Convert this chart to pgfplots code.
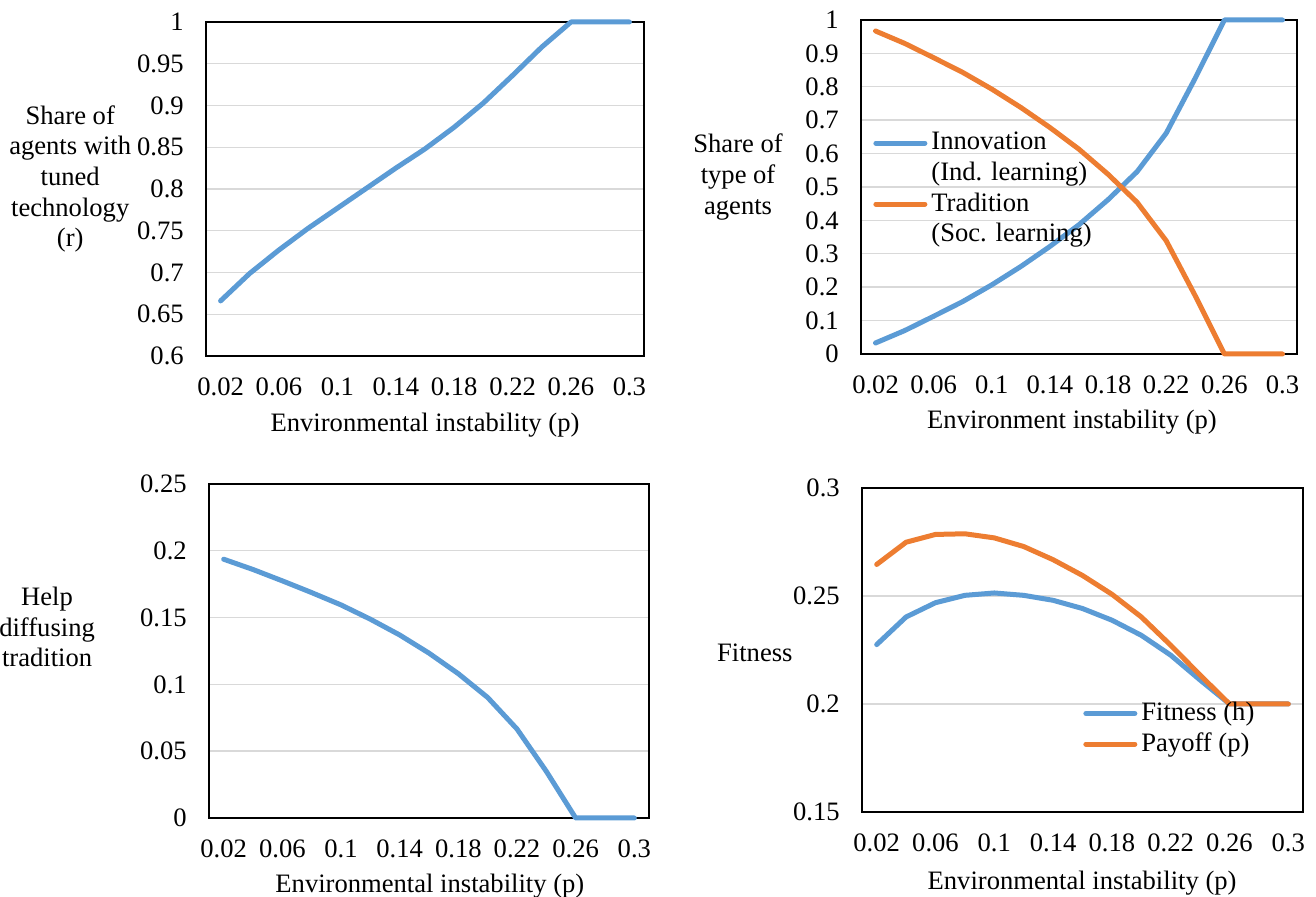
\documentclass[border=0pt]{standalone}
\usepackage{fontspec}
\setmainfont{Liberation Serif}
\usepackage{pgfplots}
\pgfplotsset{compat=1.18}

\definecolor{xlblue}{HTML}{5B9BD5}
\definecolor{xlorange}{HTML}{ED7D31}
\definecolor{gridgray}{HTML}{D9D9D9}

% environmental instability p and the four simulated outcomes
\pgfplotstableread{
p     r      innov  trad   help    fit     pay
0.02  0.666  0.033  0.967  0.1937  0.2275  0.2646
0.04  0.699  0.070  0.930  0.1860  0.2403  0.2749
0.06  0.727  0.113  0.887  0.1775  0.2469  0.2785
0.08  0.753  0.157  0.843  0.1687  0.2503  0.2788
0.10  0.777  0.207  0.793  0.1595  0.2514  0.2769
0.12  0.801  0.262  0.738  0.1488  0.2503  0.2729
0.14  0.825  0.322  0.678  0.1370  0.2480  0.2668
0.16  0.848  0.387  0.613  0.1234  0.2442  0.2595
0.18  0.874  0.462  0.538  0.1080  0.2388  0.2508
0.20  0.903  0.546  0.454  0.0902  0.2318  0.2403
0.22  0.936  0.661  0.339  0.0666  0.2226  0.2272
0.24  0.970  0.826  0.174  0.0349  0.2111  0.2134
0.26  1.000  1.000  0.000  0.0000  0.2000  0.2000
0.28  1.000  1.000  0.000  0.0000  0.2000  0.2000
0.30  1.000  1.000  0.000  0.0000  0.2000  0.2000
}\simdata

\pgfplotsset{
  panel/.style={
    scale only axis,
    clip=false,
    xmin=0.01, xmax=0.31,
    xtick={0.02,0.06,0.10,0.14,0.18,0.22,0.26,0.30},
    xticklabels={0.02,0.06,0.1,0.14,0.18,0.22,0.26,0.3},
    major tick length=0pt,
    ymajorgrids,
    grid style={gridgray, line width=0.7pt},
    axis line style={black, line width=0.6pt},
    /pgf/number format/assume math mode=true,
    /pgf/number format/fixed,
    /pgf/number format/precision=2,
    yticklabel style={xshift=-6.5pt},
    xticklabel style={yshift=-6.3pt},
    every axis plot/.append style={line width=2.5pt, line cap=round, line join=round},
    every axis y label/.style={anchor=center, align=center},
    every axis x label/.style={anchor=center},
    legend image code/.code={\draw[#1] (0pt,0pt) -- (24.5pt,0pt);},
    legend cell align=left,
  },
}

\begin{document}
\fontsize{13.3}{15.3}\selectfont
\begin{tikzpicture}
\useasboundingbox (0,0) rectangle (658pt,448.5pt);

% share of agents with tuned technology
\begin{axis}[panel,
  at={(103pt,270.5pt)}, anchor=south west,
  width=219pt, height=167pt,
  ymin=0.6, ymax=1, ytick={0.6,0.65,0.7,0.75,0.8,0.85,0.9,0.95,1},
  ylabel={Share of\\agents with\\tuned\\technology\\(r)},
  ylabel style={at={(axis description cs:-0.31,0.53)}},
  xlabel={Environmental instability (p)},
  xlabel style={at={(axis description cs:0.5,-0.208)}},
]
\addplot[xlblue] table[x=p, y=r] {\simdata};
\end{axis}

% share of innovators and traditionalists
\begin{axis}[panel,
  at={(430.5pt,271.5pt)}, anchor=south west,
  width=218pt, height=167pt,
  ymin=0, ymax=1, ytick={0,0.1,0.2,0.3,0.4,0.5,0.6,0.7,0.8,0.9,1},
  ylabel={Share of\\type of\\agents},
  ylabel style={at={(axis description cs:-0.282,0.53)}},
  xlabel={Environment instability (p)},
  xlabel style={at={(axis description cs:0.484,-0.205)}},
  legend style={draw=none, fill=none, inner sep=0pt, row sep=15.5pt,
    at={(axis description cs:0.0275,0.677)}, anchor=north west},
]
\addplot[xlblue] table[x=p, y=innov] {\simdata};
\addlegendentry{\vtop{\hbox{Innovation}\hbox{(Ind. learning)}}}
\addplot[xlorange] table[x=p, y=trad] {\simdata};
\addlegendentry{\vtop{\hbox{Tradition}\hbox{(Soc. learning)}}}
\end{axis}

% help diffusing tradition
\begin{axis}[panel,
  at={(104.5pt,39.5pt)}, anchor=south west,
  width=220pt, height=167pt,
  ymin=0, ymax=0.25, ytick={0,0.05,0.1,0.15,0.2,0.25},
  ylabel={Help\\diffusing\\tradition},
  ylabel style={at={(axis description cs:-0.368,0.572)}},
  xlabel={Environmental instability (p)},
  xlabel style={at={(axis description cs:0.502,-0.204)}},
]
\addplot[xlblue] table[x=p, y=help] {\simdata};
\end{axis}

% fitness and payoff
\begin{axis}[panel,
  at={(431pt,42.5pt)}, anchor=south west,
  width=220.5pt, height=162pt,
  ymin=0.15, ymax=0.3, ytick={0.15,0.2,0.25,0.3},
  ylabel={Fitness},
  ylabel style={at={(axis description cs:-0.243,0.49)}},
  xlabel={Environmental instability (p)},
  xlabel style={at={(axis description cs:0.499,-0.22)}},
  legend style={draw=none, fill=none, inner sep=0pt,
    at={(axis description cs:0.501,0.352)}, anchor=north west},
]
\addplot[xlblue] table[x=p, y=fit] {\simdata};
\addlegendentry{Fitness (h)}
\addplot[xlorange] table[x=p, y=pay] {\simdata};
\addlegendentry{Payoff (p)}
\end{axis}
\end{tikzpicture}
\end{document}
